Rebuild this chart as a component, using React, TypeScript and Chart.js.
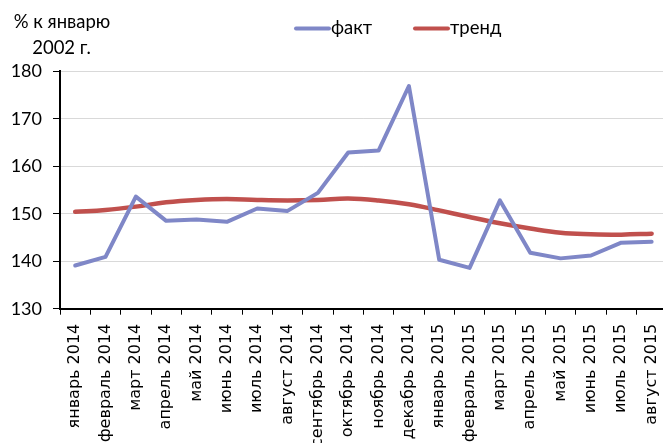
import React, { useEffect, useRef } from 'react';
import { Chart, registerables } from 'chart.js';

Chart.register(...registerables);

const categories = [
  'январь 2014', 'февраль 2014', 'март 2014', 'апрель 2014', 'май 2014', 'июнь 2014',
  'июль 2014', 'август 2014', 'сентябрь 2014', 'октябрь 2014', 'ноябрь 2014', 'декабрь 2014',
  'январь 2015', 'февраль 2015', 'март 2015', 'апрель 2015', 'май 2015', 'июнь 2015',
  'июль 2015', 'август 2015',
];

const factValues = [
  139.1, 140.9, 153.6, 148.5, 148.8, 148.3, 151.1, 150.6, 154.4, 162.9,
  163.3, 176.9, 140.3, 138.6, 152.8, 141.8, 140.6, 141.2, 143.9, 144.1,
];

const trendValues = [
  150.4, 150.8, 151.5, 152.4, 152.9, 153.1, 152.9, 152.8, 152.9, 153.2,
  152.8, 152.0, 150.7, 149.3, 148.0, 146.9, 146.0, 145.7, 145.6, 145.8,
];

const yMin = 130;
const yMax = 180;
const yStep = 10;

const seriesNames = ['факт', 'тренд'];
const seriesColors = ['#7F87C7', '#C0504D'];
const axisTitleLines = ['% к январю', '2002 г.'];

const FONT = 'Lato, "Noto Sans", sans-serif';
const XFONT = '"DejaVu Sans", sans-serif';

const overlayPlugin = {
  id: 'overlayText',
  afterDraw(chart: any) {
    const ctx = chart.ctx;
    ctx.save();
    ctx.fillStyle = '#000';
    ctx.font = `18.5px ${FONT}`;
    ctx.textAlign = 'center';
    ctx.textBaseline = 'alphabetic';
    ctx.fillText(axisTitleLines[0], 62, 28);
    ctx.fillText(axisTitleLines[1], 61.5, 54);

    const legendItems = [
      { x0: 296, x1: 329, tx: 331 },
      { x0: 415, x1: 448, tx: 450 },
    ];
    legendItems.forEach((it, i) => {
      ctx.strokeStyle = seriesColors[i];
      ctx.lineWidth = 4;
      ctx.lineCap = 'round';
      ctx.beginPath();
      ctx.moveTo(it.x0, 28.5);
      ctx.lineTo(it.x1, 28.5);
      ctx.stroke();
      ctx.fillStyle = '#000';
      ctx.textAlign = 'left';
      ctx.textBaseline = 'middle';
      ctx.fillText(seriesNames[i], it.tx, 28);
    });
    ctx.restore();
  },
};

export default function App() {
  const canvasRef = useRef<HTMLCanvasElement | null>(null);

  useEffect(() => {
    if (!canvasRef.current) return;
    const chart = new Chart(canvasRef.current, {
      type: 'line',
      data: {
        labels: categories,
        datasets: [
          {
            label: seriesNames[0],
            data: factValues,
            borderColor: seriesColors[0],
            backgroundColor: seriesColors[0],
            borderWidth: 4,
            pointRadius: 0,
            tension: 0,
            borderJoinStyle: 'round',
            borderCapStyle: 'round',
          },
          {
            label: seriesNames[1],
            data: trendValues,
            borderColor: seriesColors[1],
            backgroundColor: seriesColors[1],
            borderWidth: 4.5,
            pointRadius: 0,
            tension: 0.4,
            borderCapStyle: 'round',
            borderJoinStyle: 'round',
          },
        ],
      },
      options: {
        animation: false,
        responsive: false,
        maintainAspectRatio: false,
        layout: { padding: { top: 71.3, right: 6.6, left: 0, bottom: 0 } },
        plugins: {
          legend: { display: false },
          tooltip: { enabled: false },
        },
        scales: {
          x: {
            type: 'category',
            offset: true,
            grid: {
              offset: true,
              drawOnChartArea: false,
              drawTicks: true,
              tickLength: 6,
              color: '#000',
              tickColor: '#000',
            },
            border: { display: true, color: '#000', width: 2 },
            ticks: {
              autoSkip: false,
              minRotation: 90,
              maxRotation: 90,
              padding: 9,
              color: '#000',
              font: { family: XFONT, size: 16 },
            },
            afterFit(scale: any) {
              scale.height = 460 - 308.7;
            },
          },
          y: {
            min: yMin,
            max: yMax,
            ticks: {
              stepSize: yStep,
              padding: 11,
              color: '#000',
              font: { family: FONT, size: 18 },
            },
            grid: {
              color: (c: any) => (c.tick && c.tick.value === yMin ? 'rgba(0,0,0,0)' : '#D9D9D9'),
              tickColor: '#000',
              tickLength: 7,
              lineWidth: 1,
            },
            border: { display: true, color: '#000', width: 2 },
            afterFit(scale: any) {
              scale.width = 60;
            },
          },
        },
      },
      plugins: [overlayPlugin],
    });
    return () => chart.destroy();
  }, []);

  return (
    <div
      style={{
        position: 'fixed',
        left: 0,
        top: 0,
        width: 663,
        height: 443,
        overflow: 'hidden',
        background: '#fff',
      }}
    >
      <canvas ref={canvasRef} width={680} height={460} style={{ display: 'block' }} />
    </div>
  );
}
